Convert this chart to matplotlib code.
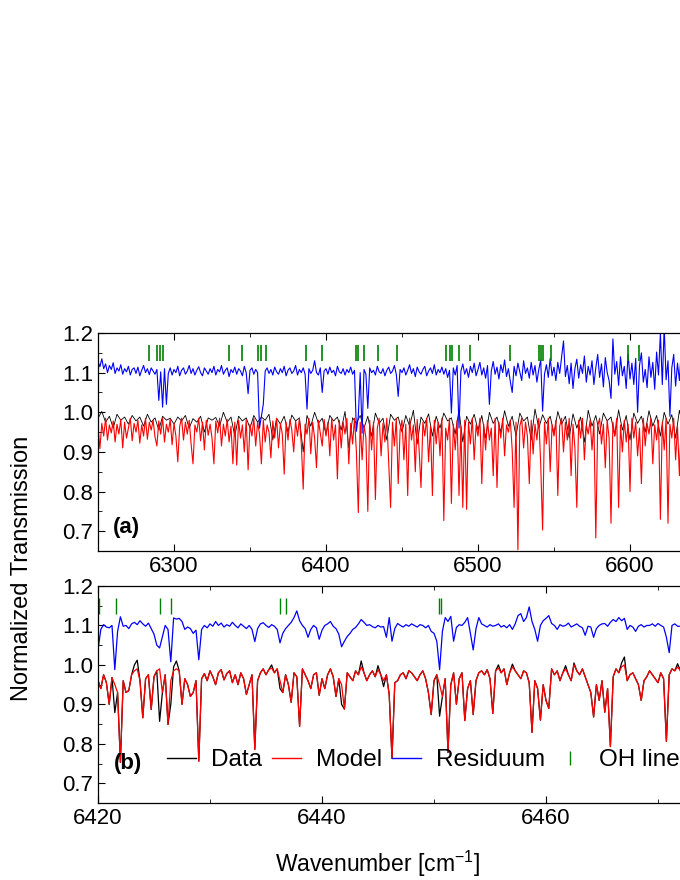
import numpy as np
import matplotlib
matplotlib.use("Agg")
import matplotlib.pyplot as plt
from matplotlib.lines import Line2D
from matplotlib.ticker import MultipleLocator, FormatStrFormatter

# ---- panel (a): 6250-6650 cm-1, sampled every 1.25 cm-1 (values x1000)
top_start, top_step = 6250.0, 1.25
model_top = [
    965, 908, 972, 940, 985, 930, 968, 948, 978, 925,
    970, 945, 982, 910, 975, 935, 960, 985, 928, 972,
    950, 980, 922, 968, 940, 985, 932, 975, 955, 980,
    938, 915, 978, 945, 985, 925, 970, 950, 982, 918,
    972, 940, 875, 965, 985, 930, 975, 945, 980, 920,
    870, 968, 950, 985, 928, 975, 905, 980, 942, 970,
    935, 870, 978, 948, 985, 915, 970, 940, 982, 925,
    965, 870, 975, 867, 980, 935, 968, 900, 982, 855,
    970, 940, 985, 915, 975, 945, 870, 980, 925, 968,
    950, 885, 978, 935, 985, 910, 972, 945, 844, 975,
    930, 982, 955, 900, 978, 940, 985, 920, 806, 970,
    945, 985, 895, 975, 935, 860, 980, 948, 915, 982,
    940, 975, 890, 985, 930, 968, 832, 980, 910, 975,
    945, 985, 870, 972, 920, 985, 900, 747, 975, 880,
    968, 935, 750, 980, 905, 975, 780, 960, 985, 890,
    972, 925, 985, 870, 760, 975, 915, 985, 820, 955,
    980, 880, 970, 790, 985, 930, 968, 850, 982, 905,
    810, 975, 940, 985, 875, 965, 790, 980, 920, 975,
    890, 985, 727, 960, 930, 985, 770, 970, 905, 980,
    790, 965, 760, 980, 755, 975, 920, 985, 880, 968,
    940, 985, 820, 970, 905, 980, 930, 960, 840, 985,
    810, 975, 935, 985, 890, 968, 950, 980, 905, 760,
    975, 653, 965, 985, 910, 975, 940, 820, 980, 895,
    970, 930, 985, 870, 703, 975, 920, 985, 850, 968,
    940, 980, 790, 965, 985, 900, 975, 930, 985, 840,
    970, 910, 760, 980, 935, 985, 880, 968, 945, 980,
    905, 975, 683, 965, 985, 920, 970, 860, 980, 935,
    720, 975, 940, 985, 760, 968, 900, 980, 925, 970,
    800, 985, 935, 975, 890, 960, 820, 985, 915, 972,
    945, 985, 870, 968, 930, 980, 730, 975, 905, 985,
    720, 970, 935, 985, 880, 965, 840, 980, 920, 975,
    945, 985, 890, 970, 930, 985, 860, 975, 940, 980,
    950,
]
resid_top = [
    1128, 1115, 1135, 1110, 1122, 1100, 1118, 1108, 1125, 1098,
    1112, 1104, 1120, 1096, 1110, 1102, 1116, 1094, 1108, 1112,
    1098, 1114, 1092, 1106, 1118, 1100, 1110, 1095, 1112, 1104,
    1096, 1108, 1030, 1102, 1013, 1110, 1020, 1098, 1112, 1094,
    1108, 1100, 1116, 1092, 1106, 1112, 1096, 1104, 1118, 1098,
    1110, 1094, 1106, 1115, 1100, 1092, 1112, 1104, 1096, 1110,
    1100, 1116, 1094, 1108, 1102, 1118, 1096, 1106, 1112, 1090,
    1108, 1100, 1114, 1096, 1110, 1104, 1092, 1116, 1100, 1047,
    1106, 1112, 1096, 1108, 1100, 960, 990, 1020, 1104, 1112,
    1098, 1108, 1094, 1114, 1102, 1096, 1110, 1100, 1116, 1092,
    1106, 1112, 1098, 1104, 1118, 1094, 1108, 1100, 1112, 1096,
    1008, 1110, 1098, 1106, 1130, 1100, 1094, 1112, 1050, 1104,
    1110, 1096, 1114, 1100, 1106, 1092, 1116, 1102, 1098, 1110,
    1094, 1108, 1100, 1114, 1096, 1106, 952, 990, 1100, 947,
    1108, 1096, 1010, 1112, 1100, 1106, 1094, 1116, 1102, 1098,
    1110, 1092, 1106, 1114, 1098, 1104, 1118, 1096, 1040, 1108,
    1100, 1112, 1094, 1106, 1120, 1098, 1110, 1090, 1114, 1102,
    1096, 1108, 1116, 1092, 1104, 1112, 1098, 1120, 1094, 1108,
    1100, 1114, 1096, 1110, 1088, 1106, 998, 1112, 1094, 1118,
    960, 1104, 1122, 1096, 1110, 1088, 1116, 1100, 1124, 1092,
    1108, 1126, 1094, 1112, 1086, 1118, 1020, 1104, 1128, 1096,
    1114, 1084, 1120, 1100, 1132, 1090, 1110, 1078, 1050, 1116,
    1092, 1124, 1102, 1080, 1130, 1098, 1112, 1086, 1126, 1094,
    1118, 1076, 1108, 1132, 1003, 1096, 1120, 1088, 1136, 1092,
    1114, 1080, 1126, 1098, 1140, 1180, 1090, 1118, 1072, 1124,
    1060, 1110, 1134, 1086, 1120, 1098, 1142, 1076, 1116, 1094,
    1130, 1070, 1112, 1146, 1088, 1122, 1064, 1138, 1100, 1080,
    1035, 1185, 1096, 1128, 1068, 1140, 1092, 1116, 1060, 1148,
    1084, 1124, 1070, 1136, 1000, 1118, 1150, 1076, 1108, 1062,
    1140, 1088, 1126, 1058, 1152, 1094, 1200, 1070, 1215, 1082,
    1130, 990, 1112, 1146, 1066, 1124, 1080, 1160, 1094, 1056,
    1138, 1072, 1118, 1150, 1078, 1128, 1062, 1142, 1090, 1120,
    1100,
]
# data in panel (a), sampled every 2.5 cm-1 (mostly hidden under the model)
data_top_step = 2.5
data_top = [
    985, 1002, 975, 990, 960, 995, 980, 988, 970, 992,
    978, 988, 965, 995, 975, 986, 955, 990, 980, 985,
    970, 988, 978, 992, 960, 984, 975, 990, 950, 986,
    980, 987, 965, 1000, 975, 988, 940, 990, 978, 986,
    960, 992, 975, 988, 980, 995, 930, 985, 970, 990,
    950, 993, 978, 986, 900, 992, 965, 1000, 972, 985,
    945, 992, 978, 988, 955, 1002, 910, 986, 972, 992,
    960, 990, 940, 998, 972, 985, 930, 995, 980, 988,
    950, 992, 965, 1005, 920, 988, 972, 996, 940, 990,
    960, 998, 978, 986, 945, 1006, 925, 990, 970, 995,
    955, 992, 935, 1000, 972, 988, 950, 1004, 965, 990,
    940, 998, 978, 988, 930, 1008, 960, 994, 972, 990,
    945, 1002, 970, 990, 935, 996, 960, 988, 925, 1005,
    965, 992, 945, 998, 978, 988, 940, 1006, 955, 992,
    930, 998, 972, 990, 950, 1004, 965, 992, 940, 1000,
    970, 994, 935, 1005, 960, 988, 945, 996, 972, 990,
    985,
]
oh_top = [6283.6, 6288.8, 6290.8, 6292.8, 6336.2, 6344.7, 6355.3, 6357.2, 6360.5,
          6386.8, 6397.4, 6419.7, 6421.1, 6425.0, 6434.2, 6446.7, 6478.9, 6481.5,
          6482.8, 6487.5, 6494.7, 6521.0, 6540.1, 6541.4, 6542.7, 6548.0, 6598.7, 6605.9]

# ---- panel (b): 6420-6475 cm-1, sampled every 0.25 cm-1 (values x1000)
bot_start, bot_step = 6420.0, 0.25
model_bot = [
    962, 940, 975, 955, 900, 968, 950, 930, 753, 960,
    930, 935, 975, 985, 990, 960, 866, 965, 975, 887,
    970, 985, 990, 930, 975, 849, 960, 985, 990, 985,
    900, 965, 950, 920, 930, 960, 756, 965, 978, 960,
    985, 970, 950, 980, 988, 962, 978, 985, 955, 975,
    950, 980, 965, 925, 950, 975, 786, 960, 980, 990,
    975, 988, 992, 980, 990, 960, 930, 975, 950, 905,
    980, 970, 844, 990, 975, 960, 940, 975, 980, 923,
    965, 940, 975, 990, 970, 920, 965, 950, 888, 980,
    970, 960, 985, 975, 995, 980, 960, 975, 985, 970,
    988, 975, 960, 975, 925, 763, 955, 960, 975, 980,
    965, 985, 980, 970, 960, 975, 985, 965, 930, 874,
    960, 975, 950, 920, 965, 778, 950, 980, 900, 965,
    980, 859, 940, 960, 874, 960, 980, 985, 975, 988,
    965, 877, 985, 992, 980, 990, 950, 980, 995, 985,
    975, 965, 985, 980, 955, 829, 960, 940, 860, 950,
    910, 890, 990, 975, 985, 960, 980, 990, 975, 960,
    1000, 985, 975, 990, 970, 950, 930, 868, 950, 910,
    960, 880, 940, 793, 970, 990, 980, 995, 1000, 960,
    975, 980, 965, 950, 910, 960, 970, 985, 975, 965,
    955, 980, 965, 806, 975, 990, 985, 995, 985, 970,
    990, 980, 960, 985, 975, 990, 970, 985, 965, 980,
    975,
]
# data differs from the model only at these samples
data_bot_idx = [0, 6, 13, 14, 22, 26, 27, 28, 62, 65, 87, 94, 100, 102, 122,
                143, 148, 167, 170, 187, 188, 207]
data_bot_val = [960, 879, 1000, 1012, 857, 900, 995, 1010, 1000, 940, 900, 1010, 998,
                945, 870, 1000, 1002, 998, 1005, 1005, 1020, 1003]
resid_bot = [
    1038, 1090, 1102, 1096, 1094, 1100, 988, 1085, 1122, 1098,
    1100, 1092, 1104, 1108, 1102, 1112, 1104, 1098, 1106, 1092,
    1078, 1050, 1043, 1072, 1100, 1090, 1008, 1119, 1116, 1118,
    1110, 1090, 1096, 1092, 1080, 1088, 1013, 1090, 1100, 1094,
    1104, 1098, 1110, 1100, 1106, 1096, 1102, 1098, 1108, 1100,
    1094, 1104, 1098, 1092, 1100, 1090, 1059, 1092, 1104, 1107,
    1100, 1095, 1102, 1098, 1090, 1056, 1080, 1092, 1100, 1108,
    1120, 1137, 1112, 1100, 1092, 1070, 1090, 1100, 1094, 1065,
    1088, 1100, 1104, 1110, 1098, 1092, 1078, 1046, 1060, 1072,
    1080, 1090, 1095, 1104, 1115, 1108, 1100, 1102, 1097, 1094,
    1100, 1096, 1097, 1070, 1120, 1060, 1092, 1105, 1100, 1096,
    1102, 1098, 1104, 1100, 1096, 1102, 1100, 1094, 1100, 1085,
    1080, 1060, 988, 1085, 1120, 1110, 1123, 1060, 1095, 1102,
    1100, 1108, 1120, 1080, 1038, 1092, 1120, 1104, 1100, 1096,
    1102, 1098, 1100, 1104, 1096, 1100, 1094, 1102, 1090, 1104,
    1125, 1130, 1110, 1120, 1147, 1110, 1090, 1060, 1100, 1112,
    1118, 1125, 1105, 1100, 1090, 1102, 1098, 1100, 1106, 1096,
    1100, 1104, 1098, 1094, 1075, 1098, 1096, 1070, 1092, 1100,
    1104, 1105, 1098, 1108, 1115, 1110, 1120, 1112, 1118, 1090,
    1100, 1096, 1085, 1098, 1102, 1096, 1100, 1100, 1104, 1098,
    1105, 1100, 1096, 1070, 1031, 1100, 1104, 1098, 1098, 1102,
    1100, 1096, 1104, 1100, 1098, 1102, 1100, 1096, 1104, 1100,
    1098,
]
oh_bot = [6420.1, 6421.6, 6425.5, 6426.5, 6436.25, 6436.8, 6450.45, 6450.65]
oh_level = 1.15

plt.rcParams.update({
    "font.family": ["Liberation Sans", "DejaVu Sans"],
    "mathtext.default": "regular",
    "font.size": 16,
    "axes.linewidth": 0.9,
    "xtick.direction": "in",
    "ytick.direction": "in",
    "xtick.top": True,
    "ytick.right": True,
    "xtick.major.size": 5,
    "ytick.major.size": 5,
    "xtick.minor.size": 3,
    "ytick.minor.size": 3,
    "xtick.minor.visible": True,
    "ytick.minor.visible": True,
})

fig = plt.figure(figsize=(6.8, 8.8), dpi=100)
ax_a = fig.add_axes([98 / 680, 1 - 551 / 880, 608 / 680, 218 / 880])
ax_b = fig.add_axes([98 / 680, 1 - 803 / 880, 616 / 680, 217 / 880])


def grid(start, step, vals):
    return start + step * np.arange(len(vals))


# panel (a)
x_m = grid(top_start, top_step, model_top)
x_d = grid(top_start, data_top_step, data_top)
ax_a.plot(x_d, np.array(data_top) / 1000, color="black", lw=0.6)
ax_a.plot(x_m, np.array(model_top) / 1000, color="red", lw=0.8)
ax_a.plot(x_m, np.array(resid_top) / 1000, color="blue", lw=0.8)
ax_a.plot(oh_top, [oh_level] * len(oh_top), ls="none", marker="|", ms=11, mew=1.2,
          color="#008000")
ax_a.set_xlim(6250, 6650)
ax_a.xaxis.set_major_locator(MultipleLocator(100))
ax_a.xaxis.set_minor_locator(MultipleLocator(50))
ax_a.text(0.025, 0.11, "(a)", transform=ax_a.transAxes, fontsize=16,
          fontweight="bold", va="center")

# panel (b)
x_b = grid(bot_start, bot_step, model_bot)
data_bot = np.array(model_bot, dtype=float)
data_bot[data_bot_idx] = data_bot_val
ax_b.plot(x_b, data_bot / 1000, color="black", lw=0.9)
ax_b.plot(x_b, np.array(model_bot) / 1000, color="red", lw=0.9)
ax_b.plot(x_b, np.array(resid_bot) / 1000, color="blue", lw=0.9)
ax_b.plot(oh_bot, [oh_level] * len(oh_bot), ls="none", marker="|", ms=11, mew=1.0,
          color="#008000")
ax_b.set_xlim(6420, 6475)
ax_b.xaxis.set_major_locator(MultipleLocator(20))
ax_b.xaxis.set_minor_locator(MultipleLocator(10))
ax_b.text(0.025, 0.184, "(b)", transform=ax_b.transAxes, fontsize=16,
          fontweight="bold", va="center")

for ax in (ax_a, ax_b):
    ax.set_ylim(0.65, 1.2)
    ax.yaxis.set_major_locator(MultipleLocator(0.1))
    ax.yaxis.set_minor_locator(MultipleLocator(0.05))
    ax.yaxis.set_major_formatter(FormatStrFormatter("%.1f"))
    ax.tick_params(labelsize=16)

handles = [
    Line2D([], [], color="black", lw=1),
    Line2D([], [], color="red", lw=1),
    Line2D([], [], color="blue", lw=1),
    Line2D([], [], color="#008000", ls="none", marker="|", ms=10, mew=1.0),
]
ax_b.legend(handles, ["Data", "Model", "Residuum", "OH line"], ncol=4,
            loc="center left", bbox_to_anchor=((167 - 98) / 616, 0.198),
            frameon=False, fontsize=17.5, handlelength=1.2, handletextpad=0.62,
            columnspacing=0.4, borderpad=0, borderaxespad=0, numpoints=1)

fig.text(22 / 680, 1 - 568 / 880, "Normalized Transmission", rotation=90,
         fontsize=17, ha="center", va="center")
fig.text(378 / 680, 1 - 864 / 880, "Wavenumber [cm$^{-1}$]", fontsize=16.5,
         ha="center", va="center")

fig.savefig("out.png", dpi=100)
